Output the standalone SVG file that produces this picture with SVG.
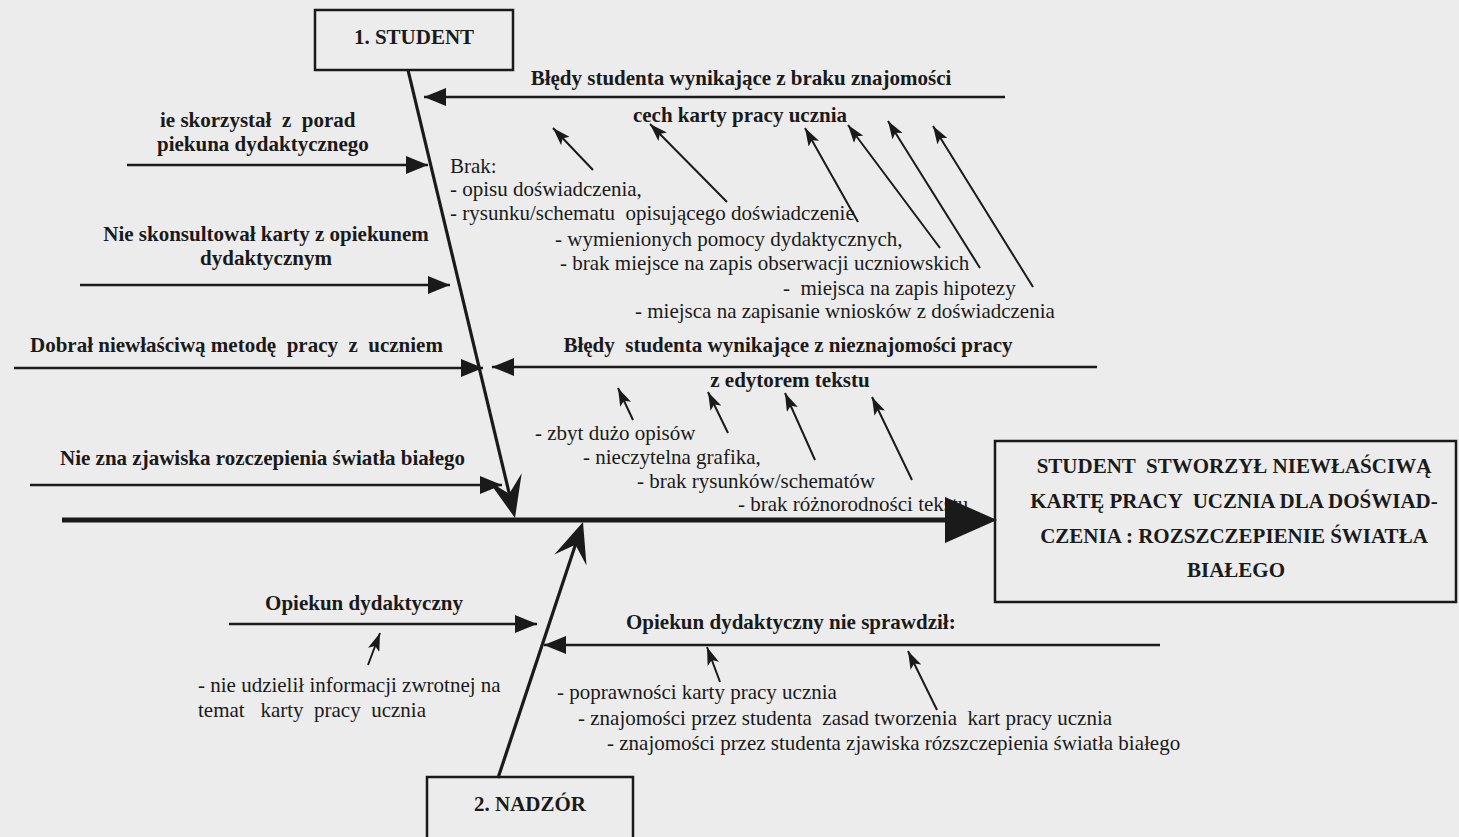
<svg xmlns="http://www.w3.org/2000/svg" width="1459" height="837" viewBox="0 0 1459 837">
<defs>
<style>
.t{font-family:"Liberation Serif","Times New Roman",serif;font-size:21px;fill:#1a1a1a}
.b{font-weight:bold}
.m{text-anchor:middle}
.box{fill:none;stroke:#1a1a1a;stroke-width:2.5}
.br{stroke:#1a1a1a;stroke-width:2.5;fill:none}
.sa{stroke:#1a1a1a;stroke-width:2;fill:none}
.sp{stroke:#1a1a1a;stroke-width:3.2;fill:none}
.hd{fill:#1a1a1a}
</style>
<marker id="ah" viewBox="0 0 22 18" refX="22" refY="9" markerWidth="22" markerHeight="18" markerUnits="userSpaceOnUse" orient="auto"><path d="M0,0 L22,9 L0,18 z" fill="#1a1a1a"/></marker>
<marker id="sm" viewBox="0 0 18 12" refX="18" refY="6" markerWidth="18" markerHeight="12" markerUnits="userSpaceOnUse" orient="auto"><path d="M0,0 L18,6 L0,12 L4,6 z" fill="#1a1a1a"/></marker>
</defs>
<rect x="0" y="0" width="1459" height="837" fill="#ececec"/>

<g id="connectors">
<line x1="62" y1="520" x2="950" y2="520" stroke="#1a1a1a" stroke-width="5"/>
<line class="sp" x1="408" y1="70" x2="512" y2="505"/>
<polygon class="hd" points="515,518 521.7,473.2 509.2,493.7 488.7,481.2"/>
<line class="sp" x1="498" y1="778" x2="579" y2="534"/>
<polygon class="hd" points="583,522 586.5,565.4 575.4,544.8 554.3,554.6"/>

<line class="br" x1="127" y1="165" x2="428" y2="165" marker-end="url(#ah)"/>
<line class="br" x1="80" y1="285" x2="450" y2="285" marker-end="url(#ah)"/>
<line class="br" x1="14" y1="368" x2="483" y2="368" marker-end="url(#ah)"/>
<line class="br" x1="30" y1="485" x2="502" y2="485" marker-end="url(#ah)"/>
<line class="br" x1="229" y1="624" x2="537" y2="624" marker-end="url(#ah)"/>

<line class="br" x1="1005" y1="97" x2="424" y2="97" marker-end="url(#ah)"/>
<line class="br" x1="1097" y1="367" x2="492" y2="367" marker-end="url(#ah)"/>
<line class="br" x1="1160" y1="645" x2="544" y2="645" marker-end="url(#ah)"/>

<line class="sa" x1="593" y1="170" x2="553" y2="128" marker-end="url(#sm)"/>
<line class="sa" x1="727" y1="202" x2="650" y2="124" marker-end="url(#sm)"/>
<line class="sa" x1="858" y1="222" x2="805" y2="128" marker-end="url(#sm)"/>
<line class="sa" x1="940" y1="248" x2="848" y2="125" marker-end="url(#sm)"/>
<line class="sa" x1="980" y1="268" x2="888" y2="121" marker-end="url(#sm)"/>
<line class="sa" x1="1033" y1="287" x2="933" y2="126" marker-end="url(#sm)"/>
<line class="sa" x1="633" y1="420" x2="618" y2="388" marker-end="url(#sm)"/>
<line class="sa" x1="728" y1="433" x2="708" y2="392" marker-end="url(#sm)"/>
<line class="sa" x1="815" y1="460" x2="785" y2="393" marker-end="url(#sm)"/>
<line class="sa" x1="912" y1="480" x2="872" y2="397" marker-end="url(#sm)"/>
<line class="sa" x1="368" y1="665" x2="380" y2="633" marker-end="url(#sm)"/>
<line class="sa" x1="720" y1="682" x2="707" y2="647" marker-end="url(#sm)"/>
<line class="sa" x1="937" y1="710" x2="908" y2="651" marker-end="url(#sm)"/>
</g>

<g id="student">
<rect class="box" x="315" y="10" width="198" height="60"/>
<text class="t b m" x="414" y="44">1. STUDENT</text>
</g>

<g id="nadzor">
<rect class="box" x="427" y="777" width="206" height="70"/>
<text class="t b m" x="530" y="811">2. NADZÓR</text>
</g>

<g id="result">
<rect class="box" x="995" y="441" width="461" height="161"/>
<text class="t b m" x="1234" y="473" xml:space="preserve">STUDENT  STWORZYŁ NIEWŁAŚCIWĄ</text>
<text class="t b m" x="1234" y="508" xml:space="preserve">KARTĘ PRACY  UCZNIA DLA DOŚWIAD-</text>
<text class="t b m" x="1234" y="543">CZENIA : ROZSZCZEPIENIE ŚWIATŁA</text>
<text class="t b m" x="1236" y="577">BIAŁEGO</text>
</g>

<g id="cause-porady">
<text class="t b" x="160" y="127" xml:space="preserve">ie skorzystał  z  porad</text>
<text class="t b" x="157" y="151">piekuna dydaktycznego</text>
</g>

<g id="cause-konsultacja">
<text class="t b m" x="266" y="241">Nie skonsultował karty z opiekunem</text>
<text class="t b m" x="266" y="265">dydaktycznym</text>
</g>

<g id="cause-metoda">
<text class="t b" x="30" y="352" xml:space="preserve">Dobrał niewłaściwą metodę  pracy  z  uczniem</text>
</g>

<g id="cause-zjawisko">
<text class="t b" x="60" y="465">Nie zna zjawiska rozczepienia światła białego</text>
</g>

<g id="cause-cechy">
<text class="t b m" x="741" y="85">Błędy studenta wynikające z braku znajomości</text>
<text class="t b m" x="740" y="122">cech karty pracy ucznia</text>
<text class="t" x="450" y="173">Brak:</text>
<text class="t" x="450" y="196">- opisu doświadczenia,</text>
<text class="t" x="450" y="220" xml:space="preserve">- rysunku/schematu  opisującego doświadczenie</text>
<text class="t" x="555" y="246">- wymienionych pomocy dydaktycznych,</text>
<text class="t" x="560" y="270">- brak miejsce na zapis obserwacji uczniowskich</text>
<text class="t" x="783" y="295" xml:space="preserve">-  miejsca na zapis hipotezy</text>
<text class="t" x="635" y="318">- miejsca na zapisanie wniosków z doświadczenia</text>
</g>

<g id="cause-edytor">
<text class="t b m" x="788" y="352" xml:space="preserve">Błędy  studenta wynikające z nieznajomości pracy</text>
<text class="t b m" x="790" y="387">z edytorem tekstu</text>
<text class="t" x="535" y="440">- zbyt dużo opisów</text>
<text class="t" x="583" y="464">- nieczytelna grafika,</text>
<text class="t" x="637" y="488">- brak rysunków/schematów</text>
<text class="t" x="738" y="511">- brak różnorodności tekstu</text>
</g>

<g id="cause-opiekun">
<text class="t b m" x="364" y="610">Opiekun dydaktyczny</text>
<text class="t" x="198" y="692">- nie udzielił informacji zwrotnej na</text>
<text class="t" x="198" y="717" xml:space="preserve">temat   karty  pracy  ucznia</text>
</g>

<g id="cause-sprawdzenie">
<text class="t b" x="626" y="629">Opiekun dydaktyczny nie sprawdził:</text>
<text class="t" x="557" y="699">- poprawności karty pracy ucznia</text>
<text class="t" x="578" y="725" xml:space="preserve">- znajomości przez studenta  zasad tworzenia  kart pracy ucznia</text>
<text class="t" x="607" y="750">- znajomości przez studenta zjawiska rózszczepienia światła białego</text>
</g>

<g id="overlay">
<polygon class="hd" points="945,497 997,520 945,543"/>
</g>
</svg>
